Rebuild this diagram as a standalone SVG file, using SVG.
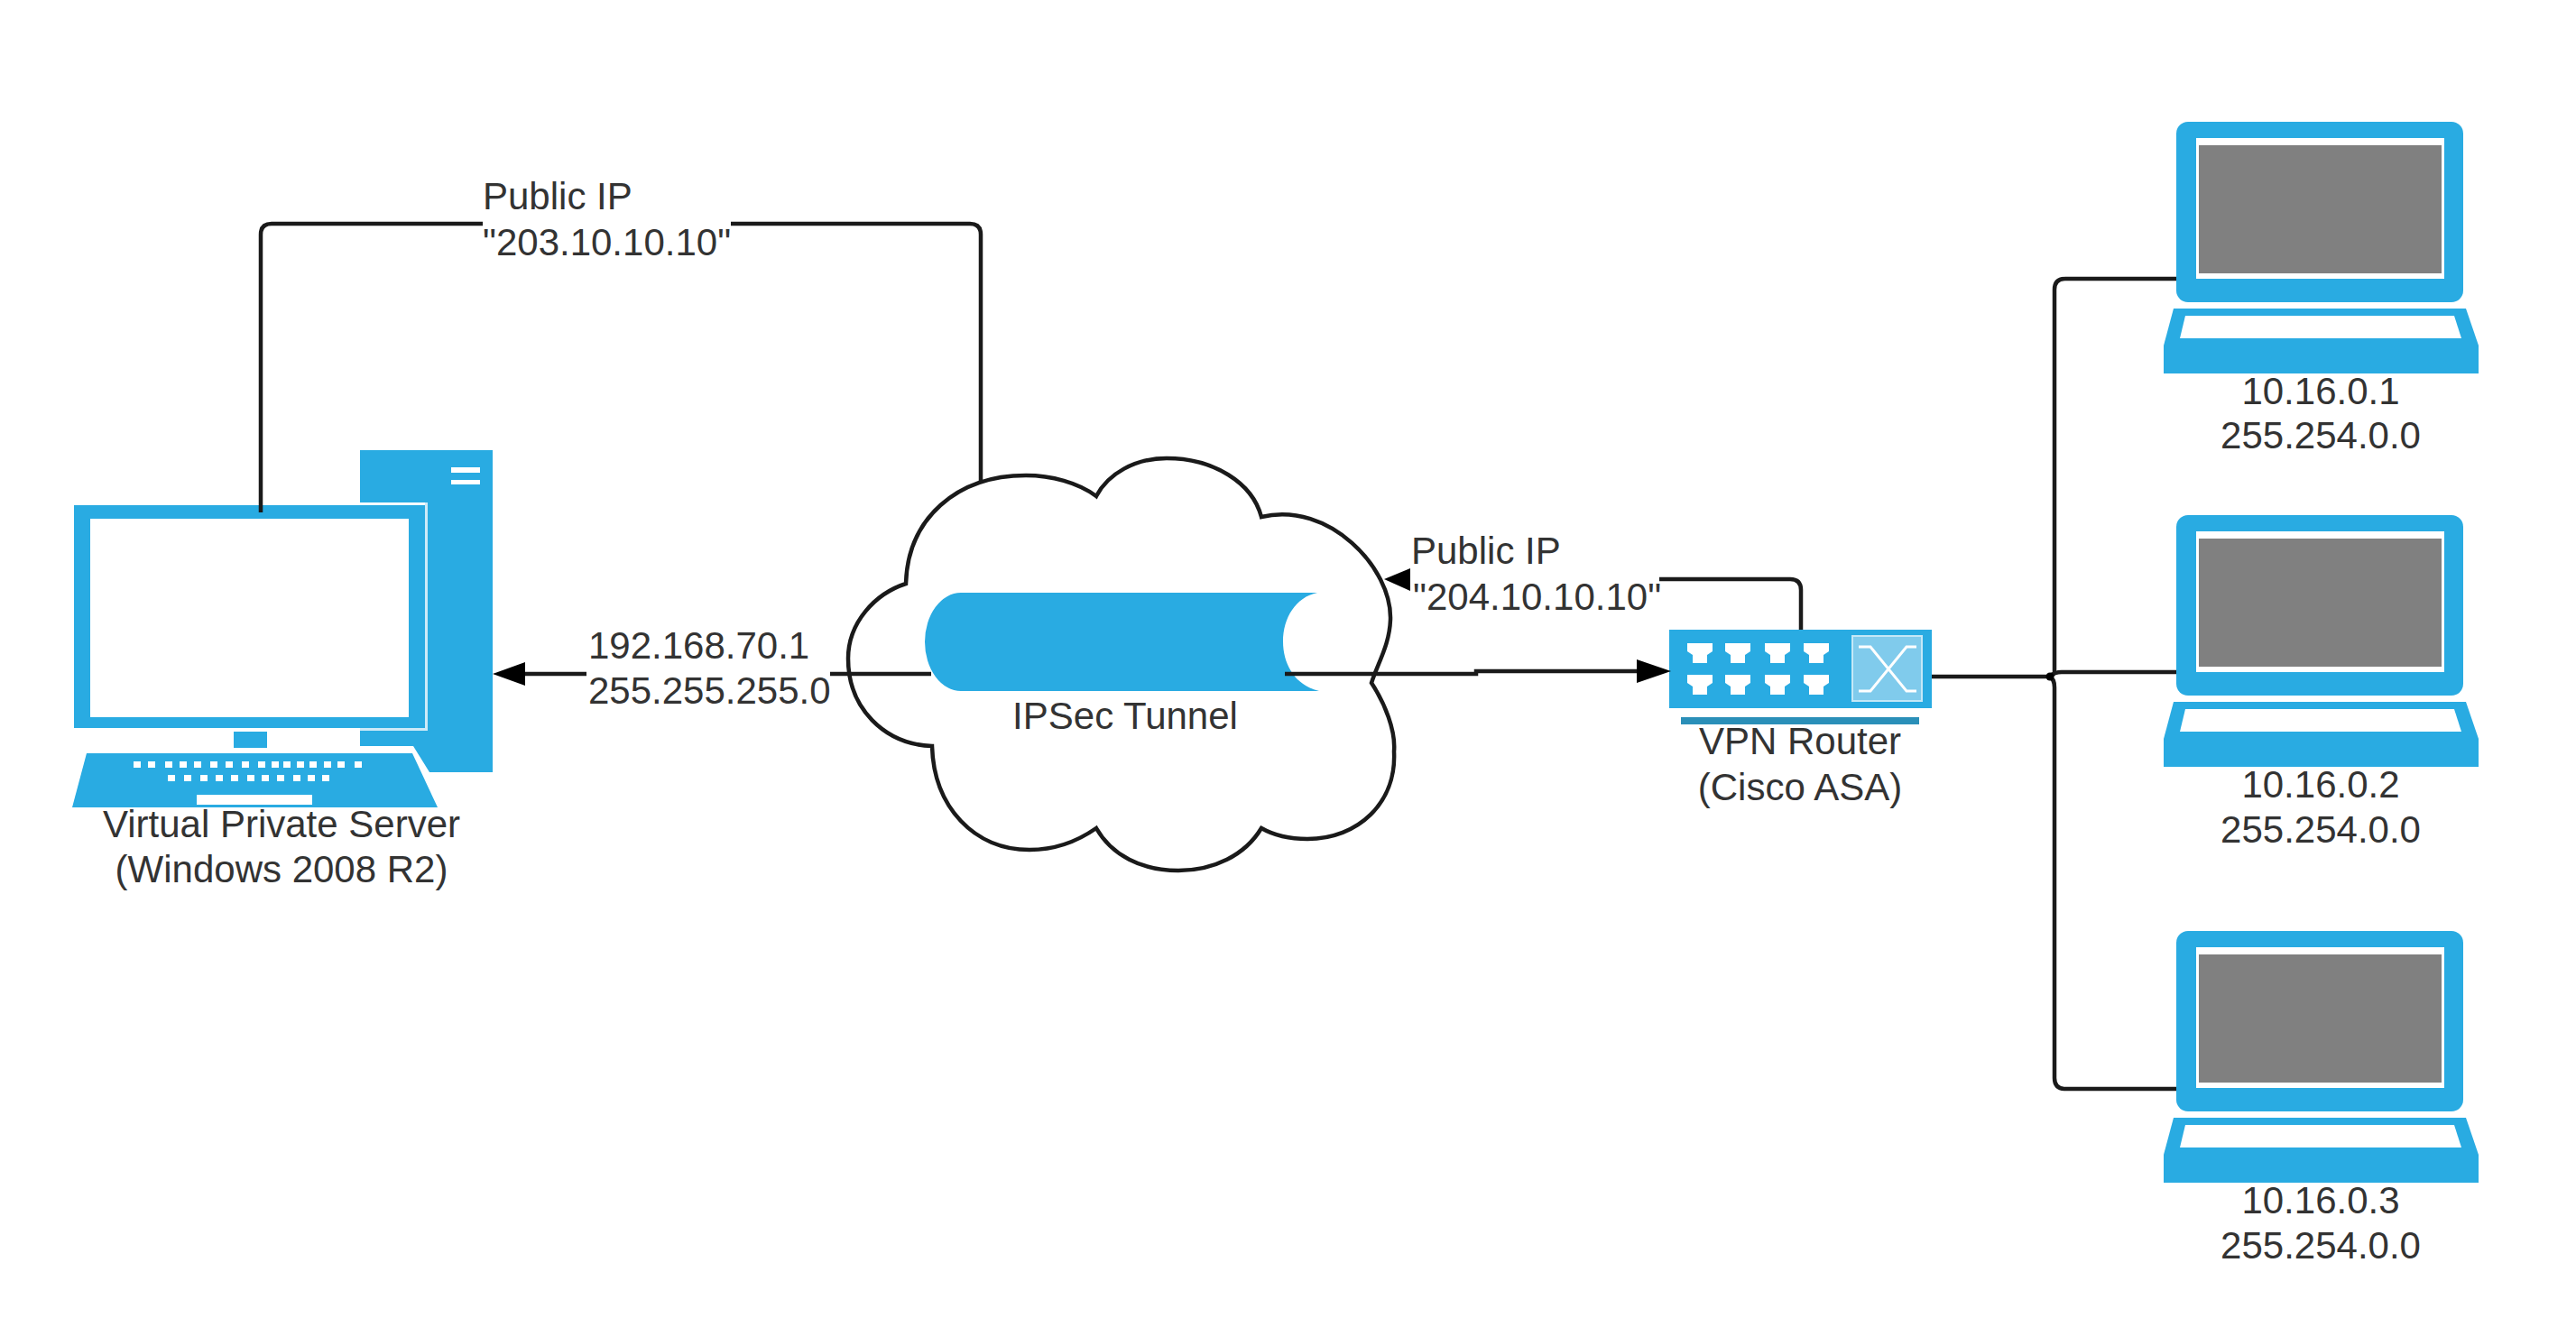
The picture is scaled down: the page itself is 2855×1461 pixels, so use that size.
<svg xmlns="http://www.w3.org/2000/svg" xmlns:xlink="http://www.w3.org/1999/xlink" width="2855" height="1461" viewBox="0 0 2855 1461">
<style>
text{font-family:"Liberation Sans",Arial,sans-serif;font-size:42px;fill:#333}
.c{text-anchor:middle}
.b{fill:#29abe2}
.w{fill:#fff}
.ln{fill:none;stroke:#1a1a1a;stroke-width:4.5}
.ah{fill:#000}
</style>
<defs>
<g id="laptop">
<rect class="b" x="2412" y="135" width="318" height="200" rx="13"/>
<rect class="w" x="2434" y="153" width="275" height="156"/>
<rect x="2437" y="161" width="269" height="142" fill="#808080"/>
<path class="b" d="M2409 342H2733L2747 383V414H2398V383Z"/>
<path class="w" d="M2422 350H2720L2728 375H2416Z"/>
</g>
<path id="port" class="w" d="M-14 0H14V9L8 13V22H-8V13L-14 9Z"/>
</defs>
<rect width="2855" height="1461" fill="#fff"/>

<g id="server">
<path class="b" d="M399 499H546V856H476L458 827H399Z"/>
<path class="w" d="M500 518h32v6h-32zM500 532h32v5h-32z"/>
<rect x="80" y="557" width="394" height="253" fill="#cdeaf8"/>
<rect class="w" x="80" y="557" width="391" height="250"/>
<rect class="w" x="80" y="807" width="319" height="3"/>
<rect class="b" x="82" y="560" width="389" height="247"/>
<rect class="w" x="100" y="575" width="353" height="220"/>
<rect class="b" x="259" y="811" width="37" height="18"/>
<path class="b" d="M96 835H457L485 895H80Z"/>
<path class="w" d="M148 844h8v7h-8zM164 844h8v7h-8zM183 844h8v7h-8zM199 844h8v7h-8zM215 844h8v7h-8zM233 844h8v7h-8zM250 844h8v7h-8zM268 844h8v7h-8zM286 844h8v7h-8zM301 844h8v7h-8zM314 844h8v7h-8zM329 844h8v7h-8zM343 844h8v7h-8zM359 844h8v7h-8zM374 844h8v7h-8zM393 844h8v7h-8zM186 859h8v7h-8zM204 859h8v7h-8zM222 859h8v7h-8zM239 859h8v7h-8zM256 859h8v7h-8zM274 859h8v7h-8zM290 859h8v7h-8zM307 859h8v7h-8zM325 859h8v7h-8zM341 859h8v7h-8zM357 859h8v7h-8z"/>
<rect class="w" x="218" y="881" width="128" height="11"/>
<text class="c" x="312" y="928">Virtual Private Server</text>
<text class="c" x="312" y="978">(Windows 2008 R2)</text>
</g>

<g id="cloud">
<path d="M1004 647C1006 575 1060 527 1137 527C1165 527 1195 535 1215 550C1228 525 1258 508 1293 508C1345 508 1388 535 1398 573C1473 555 1543 630 1541 687C1540 715 1527 735 1520 757C1535 780 1547 810 1545 833C1548 890 1505 930 1449 930C1430 930 1412 926 1398 918C1380 948 1345 965 1306 965C1265 965 1232 948 1215 918C1195 932 1170 942 1141 942C1080 942 1035 895 1033 827C980 825 940 785 940 730C940 690 970 658 1004 647Z" fill="#fff" stroke="#1a1a1a" stroke-width="4.5"/>
<path class="b" d="M1065 657H1460C1436 662 1422 685 1422 711C1422 737 1436 760 1462 766H1065A40 54.5 0 0 1 1065 657Z"/>
<text class="c" x="1247" y="808">IPSec Tunnel</text>
</g>

<g id="router">
<rect class="b" x="1850" y="698" width="291" height="87"/>
<use xlink:href="#port" href="#port" x="1884" y="713"/>
<use xlink:href="#port" href="#port" x="1926" y="713"/>
<use xlink:href="#port" href="#port" x="1970" y="713"/>
<use xlink:href="#port" href="#port" x="2013" y="713"/>
<use xlink:href="#port" href="#port" x="1884" y="748"/>
<use xlink:href="#port" href="#port" x="1926" y="748"/>
<use xlink:href="#port" href="#port" x="1970" y="748"/>
<use xlink:href="#port" href="#port" x="2013" y="748"/>
<rect x="2053" y="705" width="77" height="72" fill="#80cbec" stroke="#c4e8f7" stroke-width="2"/>
<path d="M2060 717H2073L2113 766H2124M2060 766H2073L2113 717H2124" fill="none" stroke="#fff" stroke-width="3"/>
<rect x="1863" y="795" width="264" height="8" fill="#2a8fb8"/>
<text class="c" x="1995" y="836">VPN Router</text>
<text class="c" x="1995" y="887">(Cisco ASA)</text>
</g>

<g id="laptop1">
<use xlink:href="#laptop" href="#laptop"/>
<text class="c" x="2572" y="448">10.16.0.1</text>
<text class="c" x="2572" y="497">255.254.0.0</text>
</g>
<g id="laptop2">
<use xlink:href="#laptop" href="#laptop" y="436"/>
<text class="c" x="2572" y="884">10.16.0.2</text>
<text class="c" x="2572" y="934">255.254.0.0</text>
</g>
<g id="laptop3">
<use xlink:href="#laptop" href="#laptop" y="897"/>
<text class="c" x="2572" y="1345">10.16.0.3</text>
<text class="c" x="2572" y="1395">255.254.0.0</text>
</g>

<g id="connectors">
<path class="ln" d="M289 568V260Q289 248 301 248H535M810 248H1075Q1087 248 1087 260V533"/>
<path class="ln" d="M650 747H575M920 747H1032"/>
<path class="ah" d="M546 747L582 734V760Z"/>
<path class="ln" d="M1424 747H1636V744H1820"/>
<path class="ah" d="M1852 744L1814 731V757Z"/>
<path class="ln" d="M1839 642H1984Q1996 642 1996 654V698"/>
<path class="ah" d="M1534 642L1563 630V655Z"/>
<path class="ln" d="M2141 750H2271Q2277 752 2277 762V1195Q2277 1207 2289 1207H2412"/>
<path class="ln" d="M2271 750Q2277 745 2285 745H2412"/>
<path class="ln" d="M2412 309H2289Q2277 309 2277 321V745Q2277 748 2271 750"/>
<circle class="ah" cx="2272" cy="750" r="4.5"/>
<text x="535" y="232">Public IP</text>
<text x="535" y="283">"203.10.10.10"</text>
<text x="652" y="730">192.168.70.1</text>
<text x="652" y="780">255.255.255.0</text>
<text x="1564" y="625">Public IP</text>
<text x="1566" y="676">"204.10.10.10"</text>
</g>
</svg>
